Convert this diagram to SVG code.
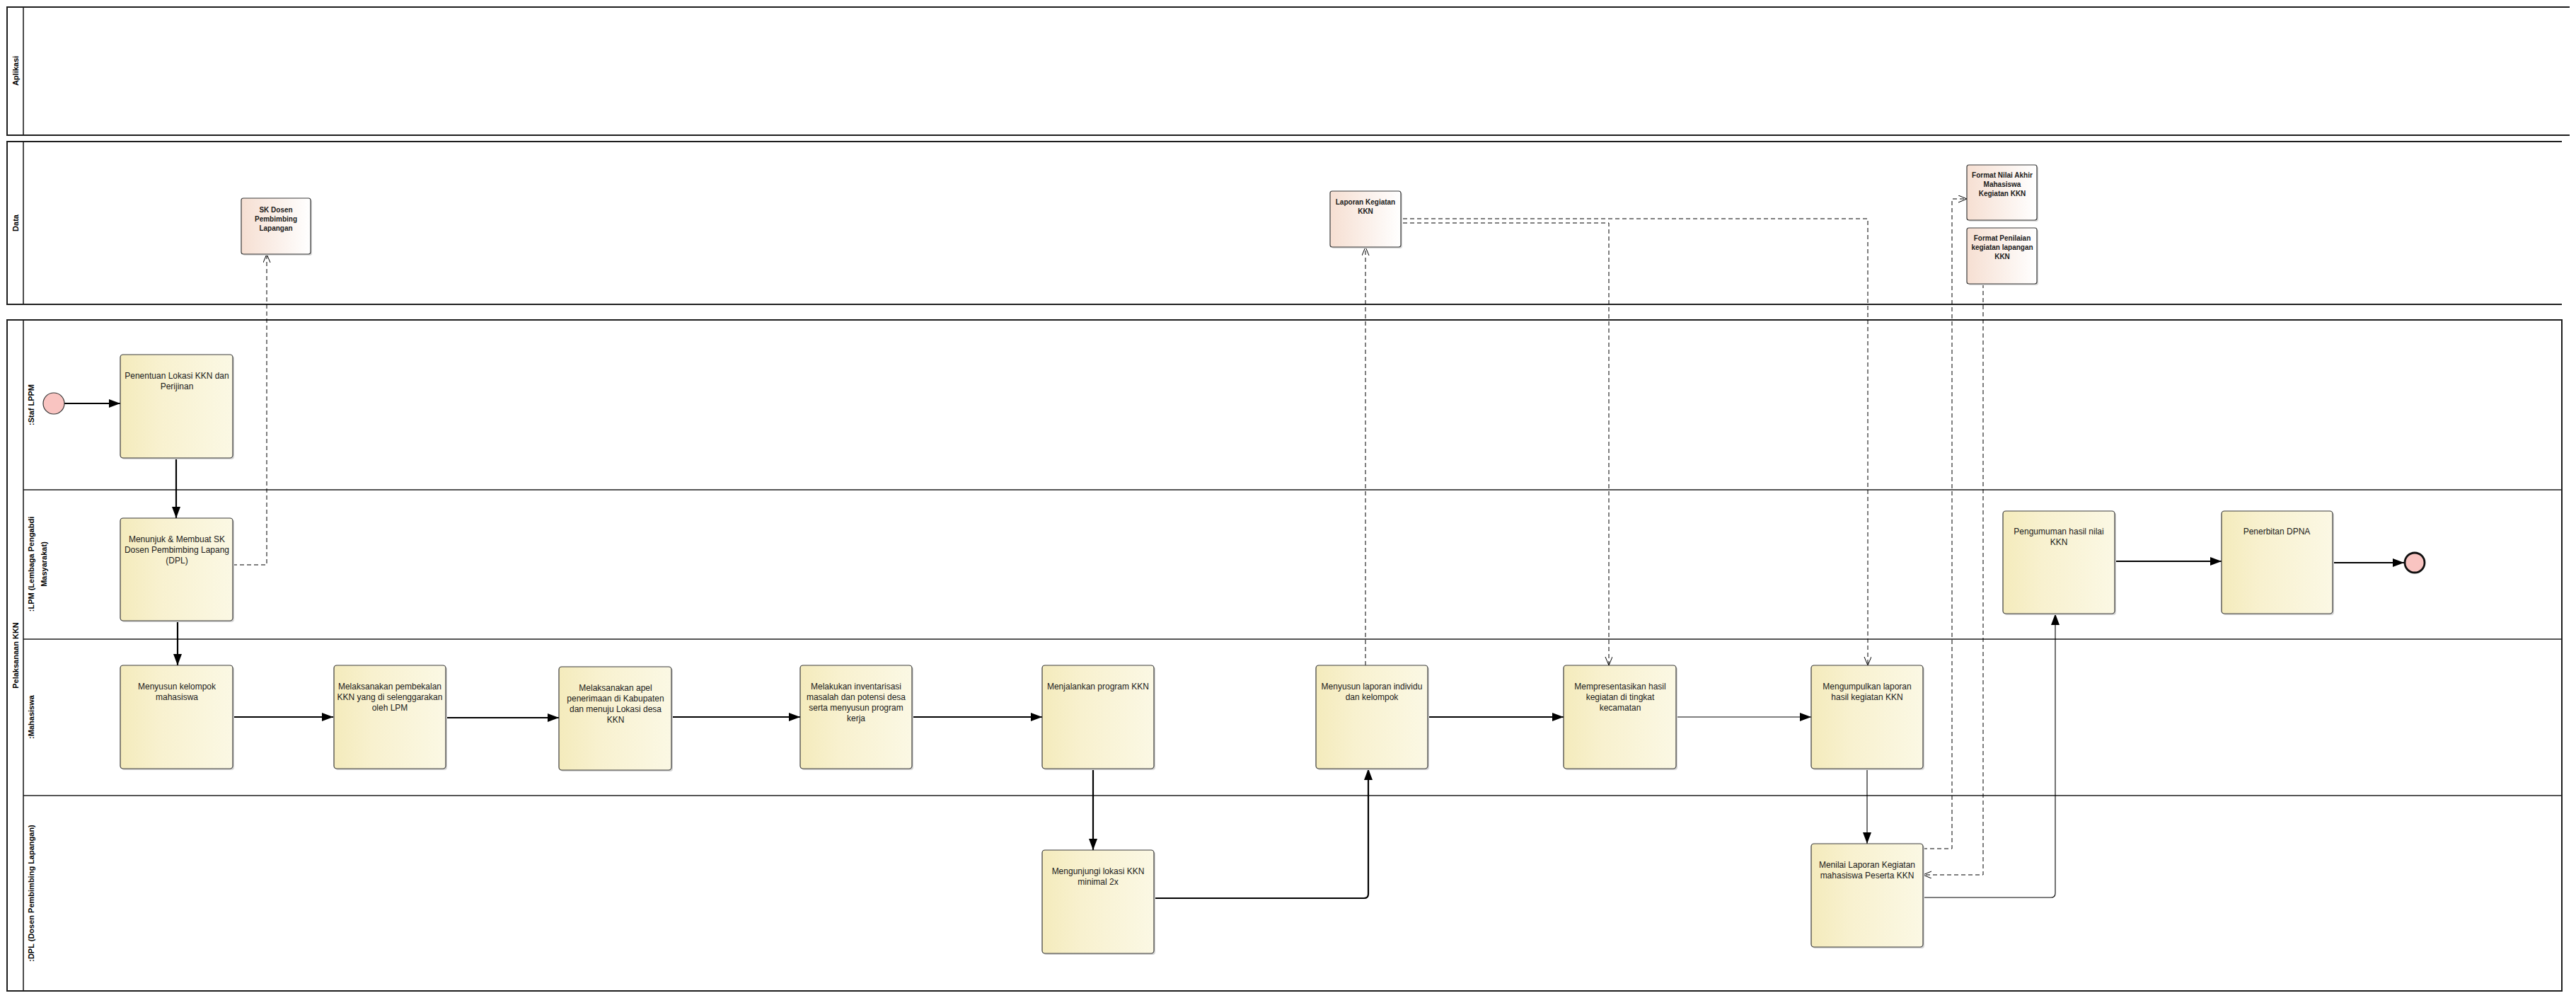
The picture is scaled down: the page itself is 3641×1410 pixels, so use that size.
<svg xmlns="http://www.w3.org/2000/svg" width="3641" height="1410" viewBox="0 0 3641 1410">
<defs>
<linearGradient id="gTask" x1="0" y1="0" x2="1" y2="0">
<stop offset="0" stop-color="#F4EBBC"/>
<stop offset="0.35" stop-color="#F8F1CF"/>
<stop offset="1" stop-color="#FBF8E4"/>
</linearGradient>
<linearGradient id="gData" x1="0" y1="0" x2="1" y2="0">
<stop offset="0" stop-color="#F6DFD2"/>
<stop offset="1" stop-color="#FFFFFF"/>
</linearGradient>
<marker id="arr" markerUnits="userSpaceOnUse" markerWidth="18" markerHeight="14" refX="16" refY="6" orient="auto">
<path d="M0,0 L16,6 L0,12 z" fill="#000"/>
</marker>
<marker id="open" markerUnits="userSpaceOnUse" markerWidth="14" markerHeight="12" refX="12" refY="5" orient="auto">
<path d="M0,0 L12,5 L0,10" fill="none" stroke="#000" stroke-width="1"/>
</marker>
</defs>
<style>
.pool{fill:none;stroke:#1e1e1e;stroke-width:2}
.lane{stroke:#1e1e1e;stroke-width:1.6}
.plabel{font-family:"Liberation Sans",Arial,sans-serif;font-size:11px;font-weight:bold;fill:#000;text-anchor:middle}
.task{fill:url(#gTask);stroke:#3a3a3a;stroke-width:1.2}
.data{fill:url(#gData);stroke:#3a3a3a;stroke-width:1.2}
.shadow{fill:#d6d6d6}
.tt{font-family:"Liberation Sans",Arial,sans-serif;font-size:12px;fill:#1a1a1a;text-anchor:middle}
.dt{font-family:"Liberation Sans",Arial,sans-serif;font-size:10px;font-weight:bold;fill:#1a1a1a;text-anchor:middle}
.flow{fill:none;stroke:#000;stroke-width:2.2;marker-end:url(#arr)}
.thin{fill:none;stroke:#000;stroke-width:1.1;marker-end:url(#arr)}
.assoc{fill:none;stroke:#000;stroke-width:1;stroke-dasharray:6,4;marker-end:url(#open)}
</style>
<rect x="0" y="0" width="3641" height="1410" fill="#fff"/>

<g id="pool-aplikasi">
<path class="pool" d="M3632,10 L10,10 L10,191 L3632,191"/>
<line class="lane" x1="33" y1="10" x2="33" y2="191"/>
<text class="plabel" transform="translate(26,100) rotate(-90)">Aplikasi</text>
</g>

<g id="pool-data">
<path class="pool" d="M3621,200 L10,200 L10,430 L3621,430"/>
<line class="lane" x1="33" y1="200" x2="33" y2="430"/>
<text class="plabel" transform="translate(26,315) rotate(-90)">Data</text>
</g>

<g id="pool-pelaksanaan">
<rect class="pool" x="10" y="452" width="3611" height="948"/>
<line class="lane" x1="33" y1="452" x2="33" y2="1400"/>
<text class="plabel" transform="translate(26,926) rotate(-90)">Pelaksanaan KKN</text>
</g>

<g id="lane-staf">
<line class="lane" x1="33" y1="692" x2="3621" y2="692"/>
<text class="plabel" transform="translate(48,572) rotate(-90)">:Staf LPPM</text>
</g>
<g id="lane-lpm">
<line class="lane" x1="33" y1="903" x2="3621" y2="903"/>
<text class="plabel" transform="translate(48,797) rotate(-90)">:LPM (Lembaga Pengabdi</text>
<text class="plabel" transform="translate(66,797) rotate(-90)">Masyarakat)</text>
</g>
<g id="lane-mahasiswa">
<line class="lane" x1="33" y1="1124" x2="3621" y2="1124"/>
<text class="plabel" transform="translate(48,1013) rotate(-90)">:Mahasiswa</text>
</g>
<g id="lane-dpl">
<text class="plabel" transform="translate(48,1262) rotate(-90)">:DPL (Dosen Pembimbing Lapangan)</text>
</g>

<g id="connectors">
<line class="flow" x1="91" y1="570" x2="170" y2="570"/>
<line class="flow" x1="249" y1="647" x2="249" y2="732"/>
<line class="flow" x1="251" y1="877" x2="251" y2="940"/>
<line class="flow" x1="329" y1="1013" x2="471" y2="1013"/>
<line class="flow" x1="630" y1="1014" x2="790" y2="1014"/>
<line class="flow" x1="949" y1="1013" x2="1131" y2="1013"/>
<line class="flow" x1="1289" y1="1013" x2="1473" y2="1013"/>
<line class="flow" x1="1545" y1="1086" x2="1545" y2="1201"/>
<path class="flow" d="M1631,1269 L1928,1269 Q1934,1269 1934,1263 L1934,1086"/>
<line class="flow" x1="2018" y1="1013" x2="2210" y2="1013"/>
<line class="thin" x1="2369" y1="1013" x2="2560" y2="1013"/>
<line class="thin" x1="2639" y1="1086" x2="2639" y2="1192"/>
<path class="thin" d="M2718,1268 L2899,1268 Q2905,1268 2905,1262 L2905,867"/>
<line class="flow" x1="2989" y1="793" x2="3140" y2="793"/>
<line class="flow" x1="3297" y1="795" x2="3398" y2="795"/>
<path class="assoc" d="M329,798 L377,798 L377,359"/>
<path class="assoc" d="M1930,940 L1930,349"/>
<path class="assoc" d="M1983,315 L2274,315 L2274,940"/>
<path class="assoc" d="M1983,309 L2640,309 L2640,940"/>
<path class="assoc" d="M2718,1199 L2759,1199 L2759,281 L2780,281"/>
<path class="assoc" d="M2803,401 L2803,1236 L2718,1236"/>
</g>

<g id="start">
<circle cx="76" cy="570" r="15" fill="#F9C4C1" stroke="#333" stroke-width="1.2"/>
</g>
<g id="end">
<circle cx="3413" cy="795" r="14" fill="#F9C4C1" stroke="#111" stroke-width="2.8"/>
</g>

<g id="data-sk">
<rect class="shadow" x="343" y="282" width="98" height="79" rx="3"/>
<rect class="data" x="341" y="280" width="98" height="79" rx="3"/>
<text class="dt" x="390" y="300">SK Dosen</text>
<text class="dt" x="390" y="313">Pembimbing</text>
<text class="dt" x="390" y="326">Lapangan</text>
</g>
<g id="data-laporan">
<rect class="shadow" x="1882" y="272" width="100" height="79" rx="3"/>
<rect class="data" x="1880" y="270" width="100" height="79" rx="3"/>
<text class="dt" x="1930" y="289">Laporan Kegiatan</text>
<text class="dt" x="1930" y="302">KKN</text>
</g>
<g id="data-format-nilai">
<rect class="shadow" x="2782" y="235" width="99" height="78" rx="3"/>
<rect class="data" x="2780" y="233" width="99" height="78" rx="3"/>
<text class="dt" x="2830" y="251">Format Nilai Akhir</text>
<text class="dt" x="2830" y="264">Mahasiswa</text>
<text class="dt" x="2830" y="277">Kegiatan KKN</text>
</g>
<g id="data-format-penilaian">
<rect class="shadow" x="2782" y="324" width="99" height="79" rx="3"/>
<rect class="data" x="2780" y="322" width="99" height="79" rx="3"/>
<text class="dt" x="2830" y="340">Format Penilaian</text>
<text class="dt" x="2830" y="353">kegiatan lapangan</text>
<text class="dt" x="2830" y="366">KKN</text>
</g>

<g id="task-penentuan">
<rect class="shadow" x="172" y="503" width="159" height="146" rx="4"/>
<rect class="task" x="170" y="501" width="159" height="146" rx="4"/>
<text class="tt" x="250" y="535">Penentuan Lokasi KKN dan</text>
<text class="tt" x="250" y="550">Perijinan</text>
</g>
<g id="task-menunjuk">
<rect class="shadow" x="172" y="734" width="159" height="145" rx="4"/>
<rect class="task" x="170" y="732" width="159" height="145" rx="4"/>
<text class="tt" x="250" y="766">Menunjuk &amp; Membuat SK</text>
<text class="tt" x="250" y="781">Dosen Pembimbing Lapang</text>
<text class="tt" x="250" y="796">(DPL)</text>
</g>
<g id="task-kelompok">
<rect class="shadow" x="172" y="942" width="159" height="146" rx="4"/>
<rect class="task" x="170" y="940" width="159" height="146" rx="4"/>
<text class="tt" x="250" y="974">Menyusun kelompok</text>
<text class="tt" x="250" y="989">mahasiswa</text>
</g>
<g id="task-pembekalan">
<rect class="shadow" x="474" y="942" width="158" height="146" rx="4"/>
<rect class="task" x="472" y="940" width="158" height="146" rx="4"/>
<text class="tt" x="551" y="974">Melaksanakan pembekalan</text>
<text class="tt" x="551" y="989">KKN yang di selenggarakan</text>
<text class="tt" x="551" y="1004">oleh LPM</text>
</g>
<g id="task-apel">
<rect class="shadow" x="792" y="944" width="159" height="146" rx="4"/>
<rect class="task" x="790" y="942" width="159" height="146" rx="4"/>
<text class="tt" x="870" y="976">Melaksanakan apel</text>
<text class="tt" x="870" y="991">penerimaan di Kabupaten</text>
<text class="tt" x="870" y="1006">dan menuju Lokasi desa</text>
<text class="tt" x="870" y="1021">KKN</text>
</g>
<g id="task-inventarisasi">
<rect class="shadow" x="1133" y="942" width="158" height="146" rx="4"/>
<rect class="task" x="1131" y="940" width="158" height="146" rx="4"/>
<text class="tt" x="1210" y="974">Melakukan inventarisasi</text>
<text class="tt" x="1210" y="989">masalah dan potensi desa</text>
<text class="tt" x="1210" y="1004">serta menyusun program</text>
<text class="tt" x="1210" y="1019">kerja</text>
</g>
<g id="task-menjalankan">
<rect class="shadow" x="1475" y="942" width="158" height="146" rx="4"/>
<rect class="task" x="1473" y="940" width="158" height="146" rx="4"/>
<text class="tt" x="1552" y="974">Menjalankan program KKN</text>
</g>
<g id="task-mengunjungi">
<rect class="shadow" x="1475" y="1203" width="158" height="146" rx="4"/>
<rect class="task" x="1473" y="1201" width="158" height="146" rx="4"/>
<text class="tt" x="1552" y="1235">Mengunjungi lokasi KKN</text>
<text class="tt" x="1552" y="1250">minimal 2x</text>
</g>
<g id="task-menyusun-laporan">
<rect class="shadow" x="1862" y="942" width="158" height="146" rx="4"/>
<rect class="task" x="1860" y="940" width="158" height="146" rx="4"/>
<text class="tt" x="1939" y="974">Menyusun laporan individu</text>
<text class="tt" x="1939" y="989">dan kelompok</text>
</g>
<g id="task-mempresentasikan">
<rect class="shadow" x="2212" y="942" width="159" height="146" rx="4"/>
<rect class="task" x="2210" y="940" width="159" height="146" rx="4"/>
<text class="tt" x="2290" y="974">Mempresentasikan hasil</text>
<text class="tt" x="2290" y="989">kegiatan di tingkat</text>
<text class="tt" x="2290" y="1004">kecamatan</text>
</g>
<g id="task-mengumpulkan">
<rect class="shadow" x="2562" y="942" width="158" height="146" rx="4"/>
<rect class="task" x="2560" y="940" width="158" height="146" rx="4"/>
<text class="tt" x="2639" y="974">Mengumpulkan laporan</text>
<text class="tt" x="2639" y="989">hasil kegiatan KKN</text>
</g>
<g id="task-menilai">
<rect class="shadow" x="2562" y="1194" width="158" height="146" rx="4"/>
<rect class="task" x="2560" y="1192" width="158" height="146" rx="4"/>
<text class="tt" x="2639" y="1226">Menilai Laporan Kegiatan</text>
<text class="tt" x="2639" y="1241">mahasiswa Peserta KKN</text>
</g>
<g id="task-pengumuman">
<rect class="shadow" x="2833" y="724" width="158" height="145" rx="4"/>
<rect class="task" x="2831" y="722" width="158" height="145" rx="4"/>
<text class="tt" x="2910" y="755">Pengumuman hasil nilai</text>
<text class="tt" x="2910" y="770">KKN</text>
</g>
<g id="task-penerbitan">
<rect class="shadow" x="3142" y="724" width="157" height="145" rx="4"/>
<rect class="task" x="3140" y="722" width="157" height="145" rx="4"/>
<text class="tt" x="3218" y="755">Penerbitan DPNA</text>
</g>
</svg>
